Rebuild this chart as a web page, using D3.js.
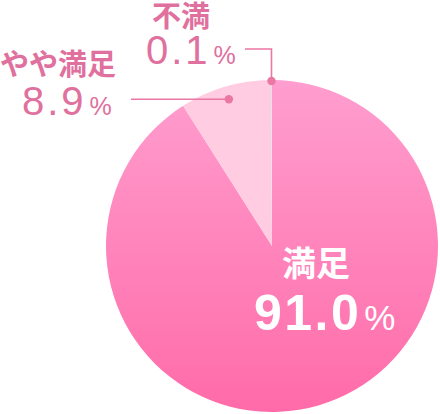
<!DOCTYPE html>
<html><head><meta charset="utf-8">
<script src="https://cdn.jsdelivr.net/npm/d3@7"></script>
<style>
html,body{margin:0;padding:0;background:#fff;}
svg{display:block;}
</style></head>
<body>
<script>
const categories = ["満足", "やや満足", "不満"];
const values = [91.0, 8.9, 0.1];
const valueLabels = ["91.0", "8.9", "0.1"];

const W = 440, H = 414;
const cx = 272, cy = 246, R = 166;
const svg = d3.select("body").append("svg").attr("width", W).attr("height", H);

const defs = svg.append("defs");
const grad = defs.append("linearGradient").attr("id", "g1")
  .attr("gradientUnits", "userSpaceOnUse")
  .attr("x1", 0).attr("y1", -R).attr("x2", 0).attr("y2", R);
grad.append("stop").attr("offset", "0%").attr("stop-color", "#ff9ecf");
grad.append("stop").attr("offset", "100%").attr("stop-color", "#ff6ba8");

const fills = ["url(#g1)", "#ffcce1", "#e2e2e2"];

const pie = d3.pie().sort(null).value(d => d);
const arcs = pie(values);
const arc = d3.arc().innerRadius(0).outerRadius(R);

const g = svg.append("g").attr("transform", `translate(${cx},${cy})`);
g.selectAll("path").data(arcs).enter().append("path")
  .attr("d", arc)
  .attr("fill", (d, i) => fills[i]);

const lineColor = "#ea77a4";
const textColor = "#e0709e";

const dotArc1 = d3.arc().innerRadius(153).outerRadius(153);
const dotArc2 = d3.arc().innerRadius(165).outerRadius(165);
const p1 = dotArc1.centroid(arcs[1]);
const p2 = dotArc2.centroid(arcs[2]);

g.append("line").attr("x1", p1[0]).attr("y1", p1[1]).attr("x2", 131 - cx).attr("y2", p1[1])
  .attr("stroke", lineColor).attr("stroke-width", 1.6);
g.append("circle").attr("cx", p1[0]).attr("cy", p1[1]).attr("r", 4.2).attr("fill", lineColor);

g.append("polyline")
  .attr("points", [[p2[0], p2[1]], [p2[0], 49 - cy], [245 - cx, 49 - cy]].map(p => p.join(",")).join(" "))
  .attr("fill", "none").attr("stroke", lineColor).attr("stroke-width", 1.6);
g.append("circle").attr("cx", p2[0]).attr("cy", p2[1]).attr("r", 4.2).attr("fill", lineColor);

const jp = "'Noto Sans CJK JP', 'Noto Sans', sans-serif";
const num = "'Liberation Sans', Arial, sans-serif";

function label(x, y1, y2, cat, val, color, catSize, numSize, pctSize, weight, numWeight, spacing) {
  svg.append("text").attr("x", x.cat).attr("y", y1)
    .attr("font-family", jp).attr("font-size", catSize).attr("font-weight", weight)
    .attr("fill", color).text(cat);
  const t = svg.append("text").attr("x", x.num).attr("y", y2).attr("fill", color);
  t.append("tspan").attr("font-family", num).attr("font-size", numSize)
    .attr("font-weight", numWeight).attr("letter-spacing", spacing).text(val);
  t.append("tspan").attr("font-family", num).attr("font-size", pctSize)
    .attr("dx", 3).text("%");
}

label({cat: 152, num: 146}, 27, 64, categories[2], valueLabels[2], textColor, 29, 40, 25, 700, 400, 3);
label({cat: 0, num: 22}, 75, 115, categories[1], valueLabels[1], textColor, 29, 40, 25, 700, 400, 3);
label({cat: 282, num: 254}, 276, 330, categories[0], valueLabels[0], "#ffffff", 34, 50, 35, 700, 700, 2.5);
</script>
</body></html>
